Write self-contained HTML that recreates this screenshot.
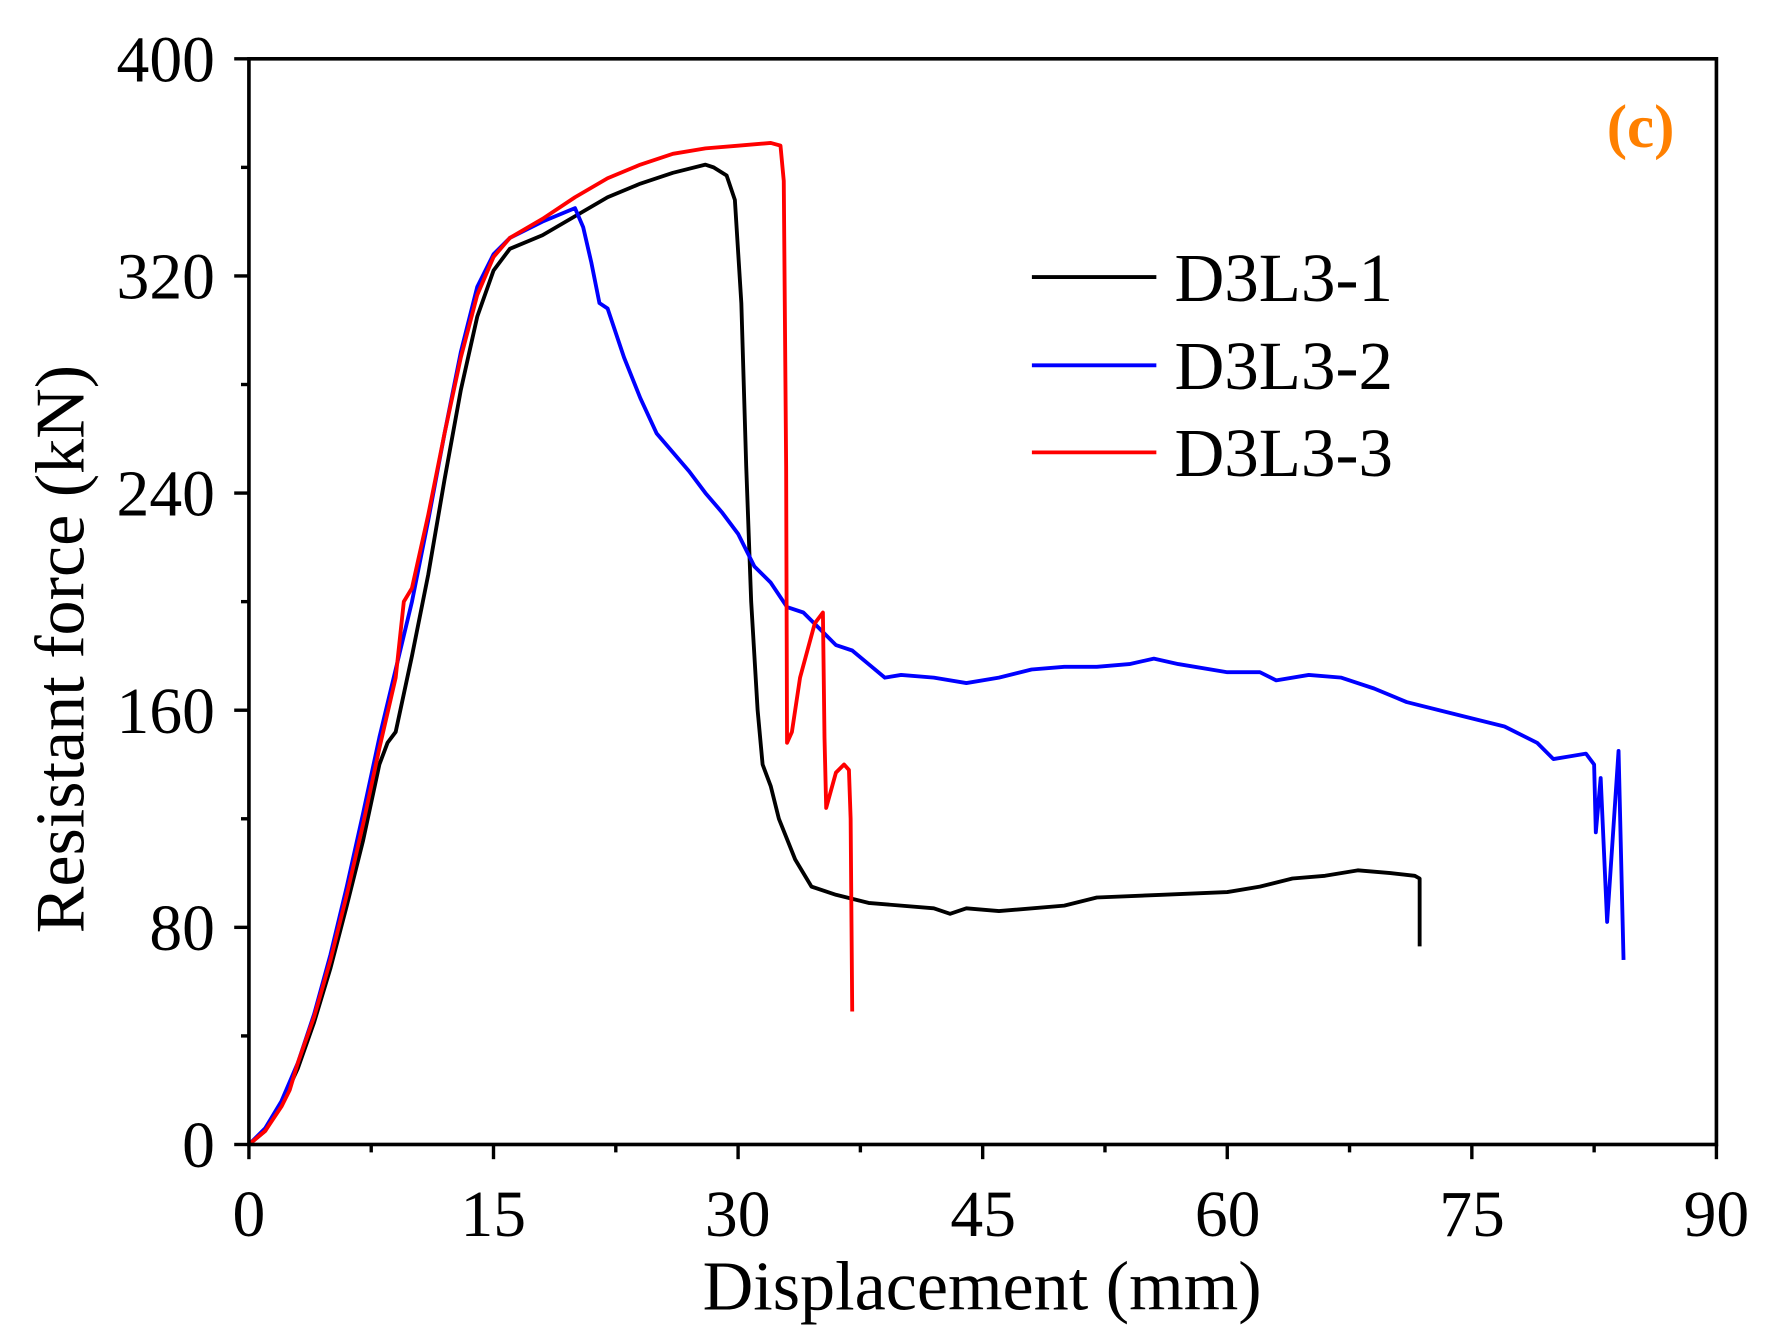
<!DOCTYPE html>
<html><head><style>html,body{margin:0;padding:0;background:#fff}svg{display:block}</style></head>
<body>
<svg id="s" width="1773" height="1339" viewBox="0 0 1567 1184" preserveAspectRatio="none" xmlns="http://www.w3.org/2000/svg" font-family="'Liberation Serif',serif">
<rect x="0" y="0" width="1567" height="1184" fill="#fff"/>
<g id="ticks" stroke="#000" stroke-width="3"></g>
<g id="curves" fill="none" stroke-width="3.4" stroke-linejoin="round"></g>
<rect x="220" y="52" width="1297" height="960" fill="none" stroke="#000" stroke-width="3.2"/>
<g font-size="58" text-anchor="end">
<text x="190" y="1032">0</text><text x="190" y="840">80</text><text x="190" y="648">160</text><text x="190" y="456">240</text><text x="190" y="264">320</text><text x="190" y="72">400</text>
</g>
<g font-size="58" text-anchor="middle">
<text x="220" y="1093">0</text><text x="436" y="1093">15</text><text x="652" y="1093">30</text><text x="869" y="1093">45</text><text x="1085" y="1093">60</text><text x="1301" y="1093">75</text><text x="1517" y="1093">90</text>
</g>
<text x="868" y="1158" font-size="62" text-anchor="middle">Displacement (mm)</text>
<text transform="translate(74,574) rotate(-90)" font-size="62" text-anchor="middle">Resistant force (kN)</text>
<text x="1450" y="130" font-size="54" font-weight="bold" fill="#ff8000" text-anchor="middle">(c)</text>
<g stroke-width="3.4">
<line x1="912" y1="245" x2="1022" y2="245" stroke="#000"/>
<line x1="912" y1="323" x2="1022" y2="323" stroke="#0000ff"/>
<line x1="912" y1="400" x2="1022" y2="400" stroke="#ff0000"/>
</g>
<g font-size="61">
<text x="1038" y="266">D3L3-1</text><text x="1038" y="344">D3L3-2</text><text x="1038" y="421">D3L3-3</text>
</g>
</svg>
<script>
const X=x=>220+x*1297/90, Y=y=>1012-y*2.4;
const ns="http://www.w3.org/2000/svg";
const tk=document.getElementById('ticks');
function ln(x1,y1,x2,y2){const l=document.createElementNS(ns,'line');l.setAttribute('x1',x1);l.setAttribute('y1',y1);l.setAttribute('x2',x2);l.setAttribute('y2',y2);tk.appendChild(l);}
for(let i=0;i<=12;i++){const x=X(i*7.5);ln(x,1012,x,1012+(i%2?7:13));}
for(let i=0;i<=10;i++){const y=Y(i*40);ln(220,y,220-(i%2?7:13),y);}
const data={
"#000":[[0,0],[1,5],[2,15],[3,28],[4,45],[5,65],[6,88],[7,112],[8,140],[8.5,148],[9,152],[10,180],[11,210],[12,245],[13,278],[14,305],[15,322],[16,330],[18,335],[20,342],[22,349],[24,354],[26,358],[28,361],[28.5,360],[29.3,357],[29.8,348],[30.2,310],[30.5,250],[30.8,200],[31.2,160],[31.5,140],[32,132],[32.5,120],[33.5,105],[34.5,95],[36,92],[38,89],[40,88],[42,87],[43,85],[44,87],[46,86],[50,88],[52,91],[56,92],[60,93],[62,95],[64,98],[66,99],[68,101],[70,100],[71.5,99],[71.8,98],[71.8,73]],
"#0000ff":[[0,0],[1,6],[2,16],[3,30],[4,48],[5,70],[6,95],[7,122],[8,150],[9,175],[10,200],[11,230],[12,262],[13,292],[14,316],[15,328],[16,334],[18,340],[20,345],[20.5,338],[21,325],[21.5,310],[22,308],[23,290],[24,275],[25,262],[26,255],[27,248],[28,240],[29,233],[30,225],[31,213],[32,207],[33,198],[34,196],[35,190],[36,184],[37,182],[38,177],[39,172],[40,173],[42,172],[44,170],[46,172],[48,175],[50,176],[52,176],[54,177],[55.5,179],[57,177],[60,174],[62,174],[63,171],[65,173],[67,172],[69,168],[71,163],[73,160],[75,157],[77,154],[79,148],[80,142],[81,143],[82,144],[82.5,140],[82.6,115],[82.9,135],[83.3,82],[84.0,145],[84.3,68]],
"#ff0000":[[0,0],[1,5],[2,14],[2.5,20],[3,30],[4,47],[5,68],[6,92],[7,118],[8,146],[9,172],[9.5,200],[10,205],[11,232],[12,262],[13,290],[14,313],[15,327],[16,334],[18,341],[20,349],[22,356],[24,361],[26,365],[28,367],[30,368],[32,369],[32.6,368],[32.8,355],[32.95,250],[33.0,148],[33.3,152],[33.8,172],[34.7,192],[35.2,196],[35.3,150],[35.4,124],[36,137],[36.5,140],[36.8,138],[36.9,120],[37.0,49]]};
const cg=document.getElementById('curves');
for(const c in data){const p=document.createElementNS(ns,'path');p.setAttribute('d','M'+data[c].map(q=>X(q[0]).toFixed(1)+','+Y(q[1]).toFixed(1)).join('L'));p.setAttribute('stroke',c);cg.appendChild(p);}
</script>
</body></html>
